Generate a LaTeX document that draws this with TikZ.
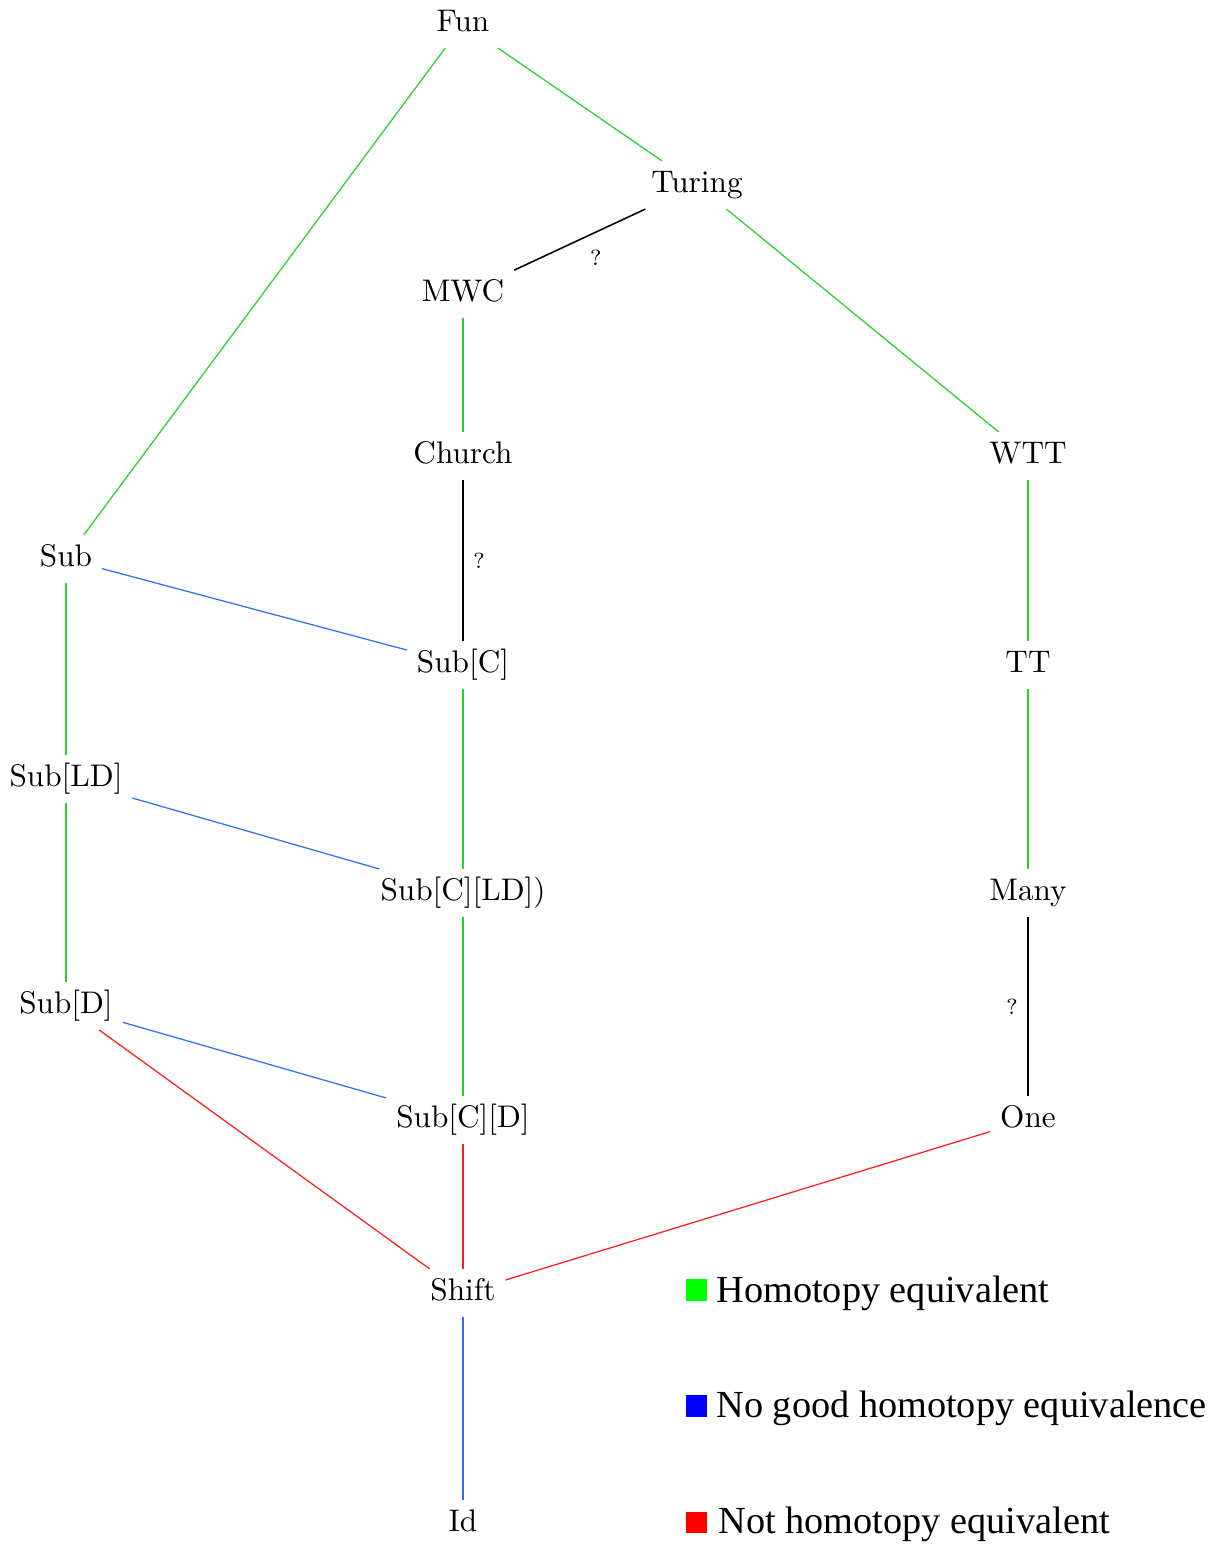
\documentclass[tikz,border=0pt]{standalone}
\usepackage{fontspec}
\newfontfamily\legendfont{Liberation Serif}
\definecolor{linegreen}{RGB}{40,210,40}
\definecolor{lineblue}{RGB}{50,110,240}
\definecolor{linered}{RGB}{250,30,30}
\begin{document}
\begin{tikzpicture}[x=0.32pt,y=-0.32pt,
  obj/.style={inner sep=3pt,text height=7pt,text depth=2pt},
  heq/.style={linegreen,line width=0.4pt},
  nog/.style={lineblue,line width=0.4pt},
  noth/.style={linered,line width=0.4pt},
  unk/.style={black,line width=0.5pt},
  qlab/.style={font=\scriptsize,inner sep=3pt},
  swatch/.style={minimum size=6.9pt,inner sep=0pt},
  legtext/.style={font=\legendfont\fontsize{12.25pt}{14pt}\selectfont,anchor=base west,inner sep=0pt}]
\useasboundingbox (0,0) rectangle (1222,1545);
\node[obj] (fun) at (463,24) {Fun};
\node[obj] (turing) at (697,185) {Turing};
\node[obj] (mwc) at (463,294) {MWC};
\node[obj] (church) at (463,456) {Church};
\node[obj] (wtt) at (1028,456) {WTT};
\node[obj] (sub) at (66,559) {Sub};
\node[obj] (subc) at (463,665) {Sub[C]};
\node[obj] (tt) at (1028,665) {TT};
\node[obj] (subld) at (66,779) {Sub[LD]};
\node[obj] (subcld) at (463,893) {Sub[C][LD])};
\node[obj] (many) at (1028,893) {Many};
\node[obj] (subd) at (66,1006) {Sub[D]};
\node[obj] (subcd) at (463,1120) {Sub[C][D]};
\node[obj] (one) at (1028,1120) {One};
\node[obj] (shift) at (463,1293) {Shift};
\node[obj] (id) at (463,1524) {Id};

\draw[heq] (fun) -- (turing);
\draw[heq] (fun) -- (sub);
\draw[heq] (turing) -- (wtt);
\draw[heq] (mwc) -- (church);
\draw[heq] (wtt) -- (tt);
\draw[heq] (tt) -- (many);
\draw[heq] (sub) -- (subld);
\draw[heq] (subld) -- (subd);
\draw[heq] (subc) -- (subcld);
\draw[heq] (subcld) -- (subcd);
\draw[unk] (turing) -- node[qlab,auto] {?} (mwc);
\draw[unk] (church) -- node[qlab,auto] {?} (subc);
\draw[unk] (many) -- node[qlab,auto,swap] {?} (one);
\draw[nog] (sub) -- (subc);
\draw[nog] (subld) -- (subcld);
\draw[nog] (subd) -- (subcd);
\draw[nog] (shift) -- (id);
\draw[noth] (subd) -- (shift);
\draw[noth] (subcd) -- (shift);
\draw[noth] (one) -- (shift);

\node[swatch,fill=green] (sw1) at (696.5,1290) {};
\node[swatch,fill=blue] (sw2) at (696.5,1406) {};
\node[swatch,fill=red] (sw3) at (696.5,1522.5) {};
\node[legtext] (l1) at (716,1302) {Homotopy equivalent};
\node[legtext] (l2) at (716,1417) {No good homotopy equivalence};
\node[legtext] (l3) at (718,1533) {Not homotopy equivalent};
\end{tikzpicture}
\end{document}
